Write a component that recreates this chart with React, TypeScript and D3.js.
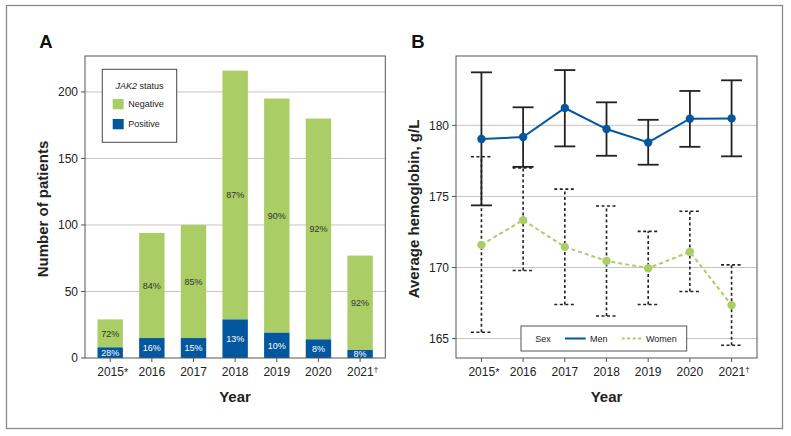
import * as d3 from "d3";
import * as React from "react";

const years = ["2015*", "2016", "2017", "2018", "2019", "2020", "2021\u2020"];

// panel A: patients per year
const totalPatients = [29, 94, 100, 216, 195, 180, 77];
const positivePatients = [8, 15, 15, 29, 19, 14, 6];
const negativePct = ["72%", "84%", "85%", "87%", "90%", "92%", "92%"];
const positivePct = ["28%", "16%", "15%", "13%", "10%", "8%", "8%"];
const countTicks = [0, 50, 100, 150, 200];

// panel B: average hemoglobin (g/L) with error bars
const menMean = [179.04, 179.18, 181.22, 179.74, 178.8, 180.47, 180.49];
const menLow = [174.37, 177.08, 178.52, 177.86, 177.23, 178.49, 177.82];
const menHigh = [183.73, 181.27, 183.89, 181.62, 180.39, 182.42, 183.17];
const womenMean = [171.59, 173.33, 171.45, 170.46, 169.95, 171.1, 167.35];
const womenLow = [165.44, 169.79, 167.39, 166.59, 167.39, 168.31, 164.53];
const womenHigh = [177.79, 177.01, 175.51, 174.33, 172.54, 173.96, 170.18];
const hbTicks = [165, 170, 175, 180];

const GREEN = "#AACD66";
const BLUE = "#03579E";
const FONT = "'Liberation Sans', Arial, Helvetica, sans-serif";
const TXT = "#222";

// year label, with a small raised dagger / asterisk
function YearLabel({ x, label }: { x: number; label: string }) {
    const mark = /[*\u2020]$/.test(label) ? label.slice(-1) : "";
    const base = mark ? label.slice(0, -1) : label;
    return (
        <text x={x + (mark ? 2.5 : 0)} y={375.5} fontSize={12} textAnchor="middle" fill={TXT}>
            {base}
            {mark && <tspan fontSize={mark === "*" ? 11 : 8} dy={mark === "*" ? 0 : -4}>{mark}</tspan>}
        </text>
    );
}

export default function App() {
    const W = 791, H = 436;
    const top = 56, bottom = 358;

    // ---- panel A scales
    const xA = d3.scaleBand<string>().domain(years).range([85, 385.3]).paddingInner(0.39).paddingOuter(0.3);
    const yA = d3.scaleLinear().domain([0, 227]).range([bottom, top]);

    // ---- panel B scales
    const xB = d3.scalePoint<string>().domain(years).range([456, 757]).padding(0.61);
    const yB = d3.scaleLinear().domain([163.63, 184.88]).range([bottom, top]);

    const meanLine = d3.line<number>().x((_, i) => xB(years[i])!).y(d => yB(d));
    const capW = 10.5;

    return (
        <svg width={W} height={H} style={{ position: "absolute", left: 0, top: 0, fontFamily: FONT }}>
            <rect x={0} y={0} width={W} height={H} fill="#fff" />
            <rect x={6.5} y={5.5} width={776} height={423} fill="none" stroke="#8a8a8a" strokeWidth={1.3} />

            {/* ================= Panel A ================= */}
            <text x={46} y={47.5} fontSize={18.5} fontWeight="bold" textAnchor="middle" fill="#111">A</text>
            {countTicks.filter(t => t > 0).map(t => (
                <line key={t} x1={85} x2={385.3} y1={yA(t)} y2={yA(t)} stroke="#c4c4c4" strokeWidth={1} />
            ))}
            {years.map((yr, i) => {
                const x = xA(yr)!;
                const bw = xA.bandwidth();
                return (
                    <g key={yr}>
                        <rect x={x} y={yA(totalPatients[i])} width={bw} height={yA(positivePatients[i]) - yA(totalPatients[i])} fill={GREEN} />
                        <rect x={x} y={yA(positivePatients[i])} width={bw} height={yA(0) - yA(positivePatients[i])} fill={BLUE} />
                        <text x={x + bw / 2} y={(yA(totalPatients[i]) + yA(positivePatients[i])) / 2} dy="0.35em"
                              fontSize={9} textAnchor="middle" fill="#333">{negativePct[i]}</text>
                        <text x={x + bw / 2} y={(yA(positivePatients[i]) + yA(0)) / 2} dy="0.35em"
                              fontSize={9} textAnchor="middle" fill="#fff">{positivePct[i]}</text>
                    </g>
                );
            })}
            <rect x={85} y={top} width={300.3} height={bottom - top} fill="none" stroke="#555" strokeWidth={1} />
            {countTicks.map(t => (
                <g key={t}>
                    <line x1={81} x2={85} y1={yA(t)} y2={yA(t)} stroke="#555" />
                    <text x={78} y={yA(t)} dy="0.35em" fontSize={12} textAnchor="end" fill={TXT}>{t}</text>
                </g>
            ))}
            {years.map(yr => (
                <g key={yr}>
                    <line x1={xA(yr)! + xA.bandwidth() / 2} x2={xA(yr)! + xA.bandwidth() / 2} y1={bottom} y2={bottom + 4} stroke="#555" />
                    <YearLabel x={xA(yr)! + xA.bandwidth() / 2} label={yr} />
                </g>
            ))}
            <text x={235} y={402} fontSize={15} fontWeight="bold" textAnchor="middle" fill={TXT}>Year</text>
            <text transform="translate(43,209) rotate(-90)" dy="0.35em" fontSize={15} fontWeight="bold" textAnchor="middle" fill={TXT}>Number of patients</text>

            {/* legend A */}
            <rect x={102.3} y={69.3} width={74.4} height={73} fill="#fff" stroke="#444" strokeWidth={1} />
            <text x={139.5} y={89} fontSize={9} textAnchor="middle" fill={TXT}>
                <tspan fontStyle="italic">JAK2</tspan> status
            </text>
            <rect x={112.7} y={99} width={11} height={10.3} fill={GREEN} />
            <text x={128.3} y={104.2} dy="0.35em" fontSize={9} fill={TXT}>Negative</text>
            <rect x={112.7} y={119} width={11} height={10.3} fill={BLUE} />
            <text x={128.3} y={124.2} dy="0.35em" fontSize={9} fill={TXT}>Positive</text>

            {/* ================= Panel B ================= */}
            <text x={418} y={47.5} fontSize={18.5} fontWeight="bold" textAnchor="middle" fill="#111">B</text>
            {hbTicks.map(t => (
                <line key={t} x1={456} x2={757} y1={yB(t)} y2={yB(t)} stroke="#c4c4c4" strokeWidth={1} />
            ))}

            {/* women error bars (dashed) */}
            {years.map((yr, i) => {
                const cx = xB(yr)!;
                return (
                    <g key={yr} stroke="#222" strokeWidth={1.6} strokeDasharray="3,2.5" fill="none">
                        <line x1={cx} x2={cx} y1={yB(womenLow[i])} y2={yB(womenHigh[i])} />
                        <line x1={cx - capW} x2={cx + capW} y1={yB(womenLow[i])} y2={yB(womenLow[i])} />
                        <line x1={cx - capW} x2={cx + capW} y1={yB(womenHigh[i])} y2={yB(womenHigh[i])} />
                    </g>
                );
            })}
            {/* men error bars (solid) */}
            {years.map((yr, i) => {
                const cx = xB(yr)!;
                return (
                    <g key={yr} stroke="#222" strokeWidth={1.8} fill="none">
                        <line x1={cx} x2={cx} y1={yB(menLow[i])} y2={yB(menHigh[i])} />
                        <line x1={cx - capW} x2={cx + capW} y1={yB(menLow[i])} y2={yB(menLow[i])} />
                        <line x1={cx - capW} x2={cx + capW} y1={yB(menHigh[i])} y2={yB(menHigh[i])} />
                    </g>
                );
            })}
            <path d={meanLine(womenMean) ?? ""} fill="none" stroke={GREEN} strokeWidth={2} strokeDasharray="4,3" />
            <path d={meanLine(menMean) ?? ""} fill="none" stroke={BLUE} strokeWidth={2} />
            {years.map((yr, i) => (
                <g key={yr}>
                    <circle cx={xB(yr)!} cy={yB(womenMean[i])} r={4.2} fill={GREEN} />
                    <circle cx={xB(yr)!} cy={yB(menMean[i])} r={4.2} fill={BLUE} />
                </g>
            ))}

            <rect x={456} y={top} width={301} height={bottom - top} fill="none" stroke="#555" strokeWidth={1} />
            {hbTicks.map(t => (
                <g key={t}>
                    <line x1={452} x2={456} y1={yB(t)} y2={yB(t)} stroke="#555" />
                    <text x={449} y={yB(t)} dy="0.35em" fontSize={12} textAnchor="end" fill={TXT}>{t}</text>
                </g>
            ))}
            {years.map(yr => (
                <g key={yr}>
                    <line x1={xB(yr)!} x2={xB(yr)!} y1={bottom} y2={bottom + 4} stroke="#555" />
                    <YearLabel x={xB(yr)!} label={yr} />
                </g>
            ))}
            <text x={606.5} y={402} fontSize={15} fontWeight="bold" textAnchor="middle" fill={TXT}>Year</text>
            <text transform="translate(414,209) rotate(-90)" dy="0.35em" fontSize={15} fontWeight="bold" textAnchor="middle" fill={TXT}>Average hemoglobin, g/L</text>

            {/* legend B */}
            <rect x={521} y={326} width={165.7} height={25} fill="#fff" stroke="#555" strokeWidth={1} />
            <text x={543} y={338.5} dy="0.35em" fontSize={9} textAnchor="middle" fill={TXT}>Sex</text>
            <line x1={565} x2={585.7} y1={338.5} y2={338.5} stroke={BLUE} strokeWidth={2} />
            <text x={590} y={338.5} dy="0.35em" fontSize={9} fill={TXT}>Men</text>
            <line x1={621.7} x2={642.7} y1={338.5} y2={338.5} stroke={GREEN} strokeWidth={2} strokeDasharray="3,2.5" />
            <text x={646} y={338.5} dy="0.35em" fontSize={9} fill={TXT}>Women</text>
        </svg>
    );
}
